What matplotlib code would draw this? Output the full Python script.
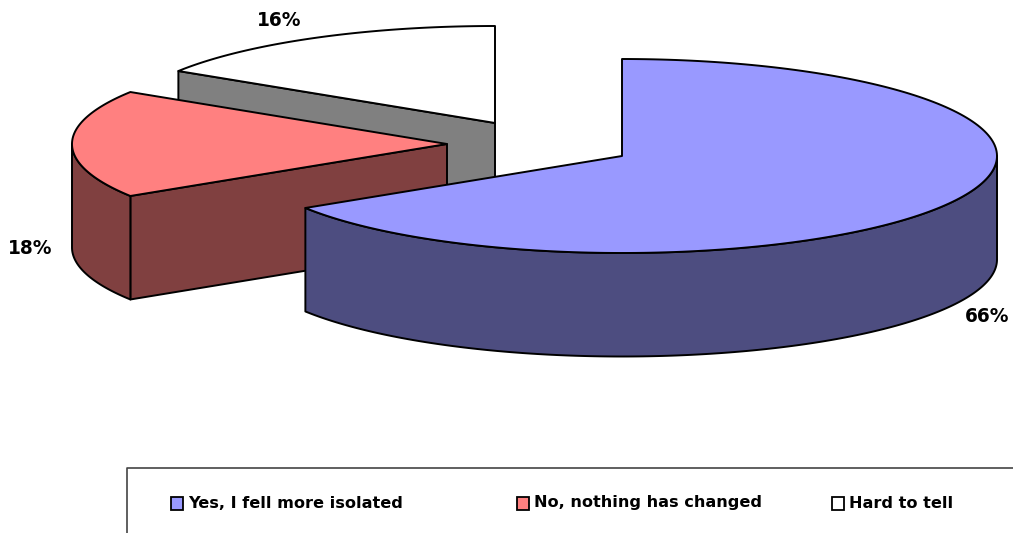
import numpy as np
import matplotlib
matplotlib.use("Agg")
import matplotlib.pyplot as plt
from matplotlib.patches import Polygon, Rectangle

categories = ["Yes, I fell more isolated", "No, nothing has changed", "Hard to tell"]
shares = [66, 18, 16]
pct_labels = ["66%", "18%", "16%"]
top_colors = ["#9999FF", "#FF8080", "#FFFFFF"]
side_colors = ["#4D4D80", "#804040", "#808080"]

W, H = 1013, 533
RX, RY, DEPTH = 375, 97, 103.5
apexes = [(622, 156), (447, 144), (495, 123)]
label_pos = [(987, 317), (30, 248), (279, 20)]
legend_pos = [(171, 503), (517, 503), (832, 503)]
legend_baselines = [508.5, 507.5, 508.5]

plt.rcParams["font.family"] = ["DejaVu Sans"]
fig = plt.figure(figsize=(W / 100, H / 100), dpi=100)
ax = fig.add_axes([0, 0, 1, 1])
ax.set_xlim(0, W)
ax.set_ylim(H, 0)
ax.axis("off")

LW = 1.4


def rim(apex, a0, a1, n=200):
    t = np.radians(np.linspace(a0, a1, n))
    return np.column_stack([apex[0] + RX * np.sin(t), apex[1] - RY * np.cos(t)])


def poly(pts, fc, z):
    ax.add_patch(Polygon(pts, closed=True, fc=fc, ec="black", lw=LW, joinstyle="round", zorder=z))


edges = np.cumsum([0] + shares) * 3.6
drop = np.array([0, DEPTH])

# back to front: white, red, blue
for i, z in [(2, 1), (1, 2), (0, 3)]:
    a0, a1 = edges[i], edges[i + 1]
    apex = np.array(apexes[i], float)
    arc = rim(apex, a0, a1)

    # radial face that looks towards the viewer
    if i in (1, 2):
        p = rim(apex, a0, a0, 1)[0]
        poly([apex, p, p + drop, apex + drop], side_colors[i], z)

    # visible outer wall (front half of the ellipse only)
    lo, hi = max(a0, 90), min(a1, 270)
    if lo < hi:
        wall = rim(apex, lo, hi)
        poly(np.vstack([wall, wall[::-1] + drop]), side_colors[i], z)

    poly(np.vstack([[apex], arc]), top_colors[i], z + 0.5)

for (x, y), s in zip(label_pos, pct_labels):
    ax.text(x, y, s, ha="center", va="center", fontsize=13.4, fontweight="bold", color="black", zorder=5)

# legend frame runs off the right and bottom of the picture
ax.plot([1013, 127, 127], [468, 468, 533], color="#444444", lw=1.2, zorder=5, clip_on=True)

for (x, y), yb, s, c in zip(legend_pos, legend_baselines, categories, top_colors):
    ax.add_patch(Rectangle((x, y - 6), 12, 13, fc=c, ec="black", lw=1.3, zorder=5))
    ax.text(x + 17, yb, s, ha="left", va="baseline", fontsize=11.6, fontweight="bold", color="black", zorder=5)

fig.savefig("out.png", dpi=100)
